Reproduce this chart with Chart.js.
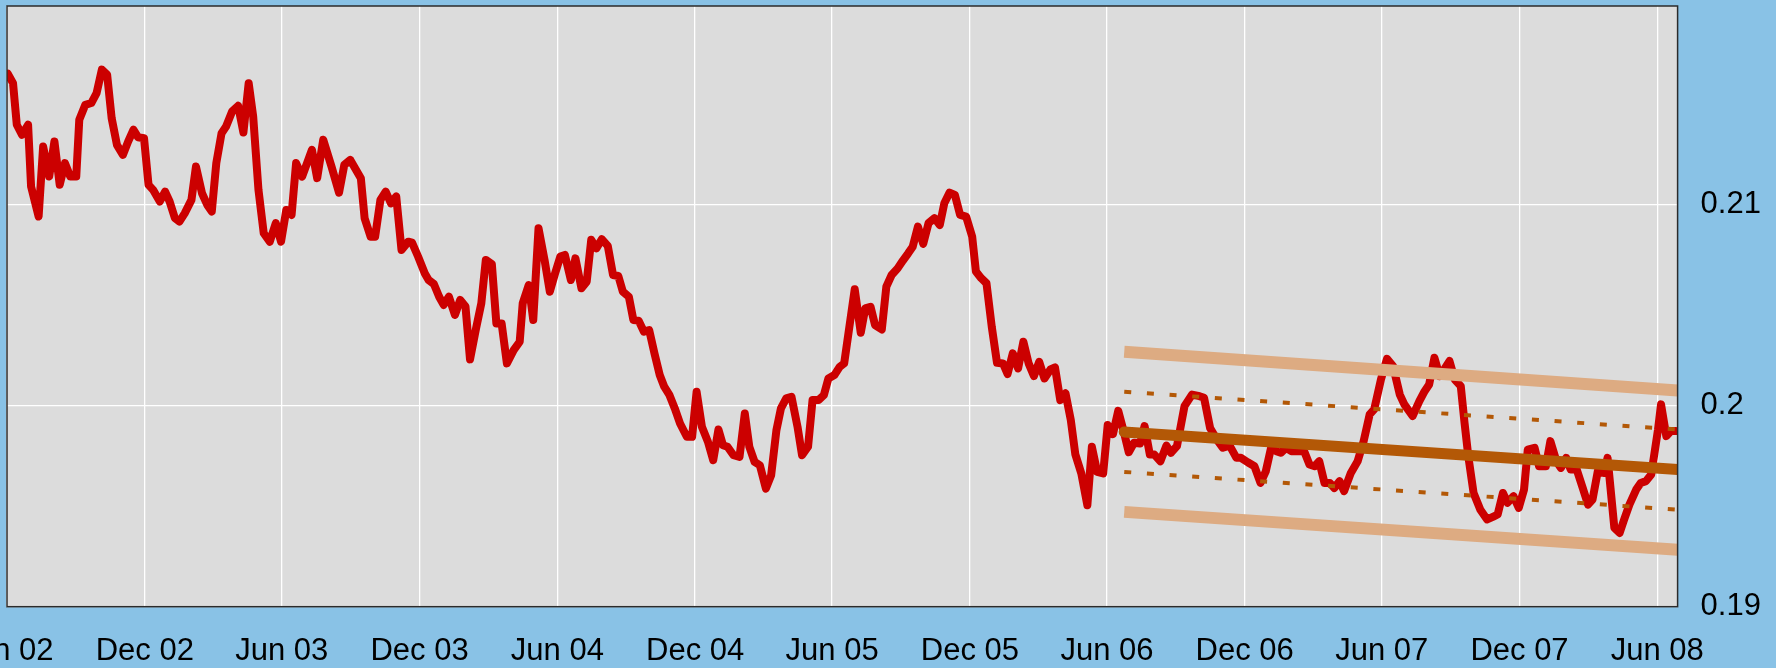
<!DOCTYPE html>
<html>
<head>
<meta charset="utf-8">
<script src="https://cdn.jsdelivr.net/npm/chart.js@4.4.1/dist/chart.umd.min.js"></script>
<style>
  html, body { margin: 0; padding: 0; background: #89c2e6; }
  #c { display: block; }
</style>
</head>
<body>
<canvas id="c" width="1776" height="668"></canvas>
<script>
// Weekly observations of the ratio
const dates = [
  '2002-06-02','2002-06-09','2002-06-14','2002-06-21','2002-06-29','2002-07-03','2002-07-13','2002-07-19','2002-07-27','2002-08-03',
  '2002-08-10','2002-08-17','2002-08-24','2002-09-01','2002-09-05','2002-09-13','2002-09-21','2002-09-28','2002-10-05','2002-10-12',
  '2002-10-18','2002-10-25','2002-11-02','2002-11-09','2002-11-16','2002-11-22','2002-11-30','2002-12-06','2002-12-12','2002-12-21',
  '2002-12-28','2003-01-03','2003-01-10','2003-01-16','2003-01-23','2003-02-01','2003-02-07','2003-02-15','2003-02-22','2003-02-28',
  '2003-03-06','2003-03-13','2003-03-19','2003-03-27','2003-04-04','2003-04-11','2003-04-18','2003-04-24','2003-05-01','2003-05-08',
  '2003-05-16','2003-05-24','2003-05-31','2003-06-07','2003-06-14','2003-06-20','2003-06-28','2003-07-11','2003-07-18','2003-07-26',
  '2003-08-06','2003-08-16','2003-08-23','2003-08-31','2003-09-14','2003-09-19','2003-09-27','2003-10-03','2003-10-10','2003-10-17',
  '2003-10-24','2003-10-31','2003-11-07','2003-11-16','2003-11-21','2003-11-29','2003-12-08','2003-12-13','2003-12-20','2003-12-27',
  '2004-01-02','2004-01-09','2004-01-17','2004-01-24','2004-01-31','2004-02-06','2004-02-14','2004-02-21','2004-02-27','2004-03-06',
  '2004-03-12','2004-03-19','2004-03-26','2004-04-04','2004-04-12','2004-04-16','2004-04-24','2004-04-30','2004-05-07','2004-05-15',
  '2004-05-22','2004-05-29','2004-06-05','2004-06-11','2004-06-19','2004-06-25','2004-07-03','2004-07-10','2004-07-16','2004-07-23',
  '2004-07-30','2004-08-07','2004-08-14','2004-08-21','2004-08-27','2004-09-04','2004-09-10','2004-09-17','2004-09-24','2004-10-01',
  '2004-10-08','2004-10-15','2004-10-21','2004-10-28','2004-11-04','2004-11-11','2004-11-20','2004-11-27','2004-12-03','2004-12-10',
  '2004-12-18','2004-12-25','2005-01-01','2005-01-07','2005-01-13','2005-01-21','2005-01-29','2005-02-05','2005-02-11','2005-02-18',
  '2005-02-25','2005-03-05','2005-03-12','2005-03-19','2005-03-25','2005-04-01','2005-04-08','2005-04-16','2005-04-22','2005-04-30',
  '2005-05-06','2005-05-14','2005-05-21','2005-05-27','2005-06-04','2005-06-11','2005-06-17','2005-07-01','2005-07-09','2005-07-15',
  '2005-07-22','2005-07-28','2005-08-06','2005-08-12','2005-08-19','2005-08-27','2005-09-03','2005-09-10','2005-09-16','2005-09-23',
  '2005-09-30','2005-10-07','2005-10-15','2005-10-22','2005-10-28','2005-11-04','2005-11-11','2005-11-18','2005-11-26','2005-12-04',
  '2005-12-09','2005-12-16','2005-12-23','2005-12-30','2006-01-06','2006-01-14','2006-01-20','2006-01-27','2006-02-03','2006-02-10',
  '2006-02-17','2006-02-24','2006-03-03','2006-03-10','2006-03-18','2006-03-24','2006-03-31','2006-04-07','2006-04-14','2006-04-20',
  '2006-04-28','2006-05-06','2006-05-12','2006-05-19','2006-05-27','2006-06-02','2006-06-09','2006-06-16','2006-06-24','2006-06-30',
  '2006-07-07','2006-07-15','2006-07-21','2006-07-28','2006-08-03','2006-08-11','2006-08-19','2006-08-25','2006-09-02','2006-09-12',
  '2006-09-22','2006-10-02','2006-10-08','2006-10-16','2006-10-25','2006-11-02','2006-11-11','2006-11-20','2006-11-26','2006-12-05',
  '2006-12-14','2006-12-22','2006-12-29','2007-01-05','2007-01-12','2007-01-18','2007-01-25','2007-02-01','2007-02-10','2007-02-18',
  '2007-02-25','2007-03-04','2007-03-10','2007-03-17','2007-03-24','2007-03-30','2007-04-06','2007-04-12','2007-04-21','2007-04-30',
  '2007-05-08','2007-05-16','2007-05-22','2007-05-31','2007-06-08','2007-06-16','2007-06-25','2007-07-01','2007-07-12','2007-07-21',
  '2007-07-28','2007-08-03','2007-08-10','2007-08-17','2007-08-23','2007-08-30','2007-09-06','2007-09-14','2007-09-19','2007-09-24',
  '2007-10-01','2007-10-10','2007-10-19','2007-10-28','2007-11-02','2007-11-09','2007-11-15','2007-11-23','2007-11-30','2007-12-07',
  '2007-12-12','2007-12-21','2007-12-27','2008-01-05','2008-01-11','2008-01-19','2008-01-25','2008-02-01','2008-02-07','2008-02-15',
  '2008-02-23','2008-03-01','2008-03-07','2008-03-14','2008-03-22','2008-03-27','2008-04-05','2008-04-12','2008-04-18','2008-04-25',
  '2008-05-04','2008-05-10','2008-05-17','2008-05-24','2008-06-02','2008-06-06','2008-06-13','2008-06-19','2008-06-26'
];

const ratio = [
  0.21653,0.21606,0.21399,0.21349,0.21399,0.21091,0.20942,0.21291,0.21141,0.21316,
  0.21100,0.21208,0.21141,0.21141,0.21424,0.21498,0.21507,0.21556,0.21673,0.21648,
  0.21432,0.21299,0.21249,0.21316,0.21374,0.21337,0.21332,0.21100,0.21075,0.21017,
  0.21066,0.21017,0.20934,0.20917,0.20958,0.21025,0.21191,0.21058,0.21000,0.20967,
  0.21208,0.21357,0.21390,0.21465,0.21493,0.21360,0.21606,0.21440,0.21075,0.20859,
  0.20817,0.20909,0.20817,0.20975,0.20950,0.21208,0.21141,0.21274,0.21133,0.21324,
  0.21191,0.21061,0.21199,0.21224,0.21133,0.20934,0.20842,0.20842,0.21025,0.21066,
  0.21008,0.21042,0.20776,0.20817,0.20812,0.20743,0.20659,0.20626,0.20606,0.20543,
  0.20502,0.20543,0.20452,0.20527,0.20494,0.20231,0.20385,0.20510,0.20726,0.20706,
  0.20410,0.20410,0.20211,0.20277,0.20319,0.20510,0.20601,0.20427,0.20884,0.20726,
  0.20568,0.20659,0.20743,0.20751,0.20626,0.20734,0.20585,0.20618,0.20826,0.20784,
  0.20829,0.20796,0.20651,0.20646,0.20568,0.20543,0.20427,0.20424,0.20369,0.20377,
  0.20261,0.20153,0.20095,0.20053,0.19987,0.19912,0.19846,0.19846,0.20070,0.19896,
  0.19821,0.19729,0.19882,0.19804,0.19796,0.19754,0.19746,0.19962,0.19796,0.19721,
  0.19704,0.19588,0.19654,0.19879,0.19987,0.20037,0.20045,0.19896,0.19754,0.19796,
  0.20029,0.20029,0.20053,0.20136,0.20153,0.20194,0.20211,0.20580,0.20364,0.20485,
  0.20493,0.20402,0.20380,0.20593,0.20651,0.20684,0.20723,0.20759,0.20792,0.20892,
  0.20806,0.20909,0.20934,0.20900,0.21008,0.21061,0.21050,0.20950,0.20942,0.20842,
  0.20668,0.20635,0.20610,0.20394,0.20214,0.20211,0.20158,0.20261,0.20186,0.20319,
  0.20211,0.20148,0.20219,0.20136,0.20181,0.20191,0.20028,0.20062,0.19929,0.19759,
  0.19663,0.19505,0.19796,0.19671,0.19663,0.19904,0.19859,0.19975,0.19862,0.19769,
  0.19816,0.19812,0.19899,0.19757,0.19757,0.19724,0.19802,0.19766,0.19799,0.19998,
  0.20056,0.20048,0.20040,0.19890,0.19832,0.19791,0.19802,0.19741,0.19741,0.19719,
  0.19699,0.19616,0.19674,0.19791,0.19774,0.19766,0.19791,0.19774,0.19774,0.19774,
  0.19708,0.19699,0.19724,0.19616,0.19616,0.19591,0.19625,0.19575,0.19666,0.19724,
  0.19824,0.19957,0.19982,0.20131,0.20234,0.20198,0.20056,0.20007,0.19949,0.20023,
  0.20073,0.20106,0.20239,0.20148,0.20181,0.20223,0.20131,0.20098,0.19915,0.19749,
  0.19566,0.19483,0.19434,0.19450,0.19459,0.19566,0.19517,0.19550,0.19492,0.19583,
  0.19782,0.19791,0.19699,0.19699,0.19824,0.19724,0.19691,0.19741,0.19683,0.19683,
  0.19591,0.19508,0.19533,0.19674,0.19666,0.19741,0.19392,0.19367,0.19434,0.19508,
  0.19583,0.19616,0.19625,0.19658,0.19882,0.20007,0.19849,0.19874,0.19874
];

// Regression channel over the last two years: mid line, inner and outer bands
const channelDates   = ['2006-06-24', '2008-06-28'];
const channelMid     = [0.19870, 0.19683];
const channelInnerHi = [0.20070, 0.19882];
const channelInnerLo = [0.19671, 0.19483];
const channelOuterHi = [0.20269, 0.20076];
const channelOuterLo = [0.19472, 0.19284];

// Axes
const xRange = ['2002-06-01', '2008-06-28'];
const xTickDates = ['2002-06-01','2002-12-01','2003-06-01','2003-12-01','2004-06-01','2004-12-01','2005-06-01',
                    '2005-12-01','2006-06-01','2006-12-01','2007-06-01','2007-12-01','2008-06-01'];
const xTickLabels = ['Jun 02','Dec 02','Jun 03','Dec 03','Jun 04','Dec 04','Jun 05',
                     'Dec 05','Jun 06','Dec 06','Jun 07','Dec 07','Jun 08'];
const yRange = [0.19, 0.2199];
const yTicks = [0.19, 0.2, 0.21];

const day = s => { const [y, m, d] = s.split('-').map(Number); return Date.UTC(y, m - 1, d) / 864e5; };
const pts = (ds, vs) => ds.map((d, i) => ({ x: day(d), y: vs[i] }));

const FONT = { family: "'Liberation Sans', Arial, sans-serif", size: 31 };
const BROWN = '#b35806';
const TAN = '#ddab82';

// Grey plotting panel with a thin dark frame
const panel = {
  id: 'panel',
  beforeDraw(chart) {
    const { ctx, chartArea: a } = chart;
    ctx.save();
    ctx.fillStyle = '#dcdcdc';
    ctx.fillRect(a.left, a.top, a.right - a.left, a.bottom - a.top);
    ctx.restore();
  },
  afterDraw(chart) {
    const { ctx, chartArea: a } = chart;
    ctx.save();
    ctx.strokeStyle = '#2b2b2b';
    ctx.lineWidth = 1.5;
    ctx.strokeRect(a.left, a.top, a.right - a.left, a.bottom - a.top);
    ctx.restore();
  }
};

const common = { pointRadius: 0, tension: 0, fill: false, clip: 0 };

new Chart(document.getElementById('c'), {
  type: 'line',
  data: {
    datasets: [
      Object.assign({ data: pts(channelDates, channelMid), borderColor: BROWN, borderWidth: 11, borderCapStyle: 'round', order: 0 }, common),
      Object.assign({ data: pts(channelDates, channelInnerHi), borderColor: BROWN, borderWidth: 4, borderDash: [7, 15.7], borderCapStyle: 'butt', order: 1 }, common),
      Object.assign({ data: pts(channelDates, channelInnerLo), borderColor: BROWN, borderWidth: 4, borderDash: [7, 15.7], borderCapStyle: 'butt', order: 1 }, common),
      Object.assign({ data: pts(channelDates, channelOuterHi), borderColor: TAN, borderWidth: 12, borderCapStyle: 'butt', order: 2 }, common),
      Object.assign({ data: pts(channelDates, channelOuterLo), borderColor: TAN, borderWidth: 12, borderCapStyle: 'butt', order: 2 }, common),
      Object.assign({ data: pts(dates, ratio), borderColor: '#cc0000', borderWidth: 8, borderJoinStyle: 'round', borderCapStyle: 'round', order: 3 }, common)
    ]
  },
  options: {
    responsive: false,
    devicePixelRatio: 1,
    animation: false,
    layout: { padding: { left: 7, top: 6, right: 0, bottom: 0 } },
    plugins: { legend: { display: false }, tooltip: { enabled: false } },
    scales: {
      x: {
        type: 'linear',
        position: 'bottom',
        min: day(xRange[0]),
        max: day(xRange[1]),
        grid: { color: '#ffffff', lineWidth: 1.3, drawTicks: false },
        border: { display: false },
        ticks: {
          padding: 26, color: '#000', font: FONT, maxRotation: 0, autoSkip: false,
          callback: (v, i) => xTickLabels[i]
        },
        afterBuildTicks: s => { s.ticks = xTickDates.map(d => ({ value: day(d) })); },
        afterFit: s => { s.height = 61.3; s.paddingLeft = 0; s.paddingRight = 0; }
      },
      y: {
        type: 'linear',
        position: 'right',
        min: yRange[0],
        max: yRange[1],
        grid: { color: '#ffffff', lineWidth: 1.3, drawTicks: false },
        border: { display: false },
        ticks: {
          padding: 23, color: '#000', font: FONT,
          callback: v => String(+v.toFixed(3))
        },
        afterBuildTicks: s => { s.ticks = yTicks.map(v => ({ value: v })); },
        afterFit: s => { s.width = 98.4; s.paddingTop = 0; s.paddingBottom = 0; }
      }
    }
  },
  plugins: [panel]
});
</script>
</body>
</html>
